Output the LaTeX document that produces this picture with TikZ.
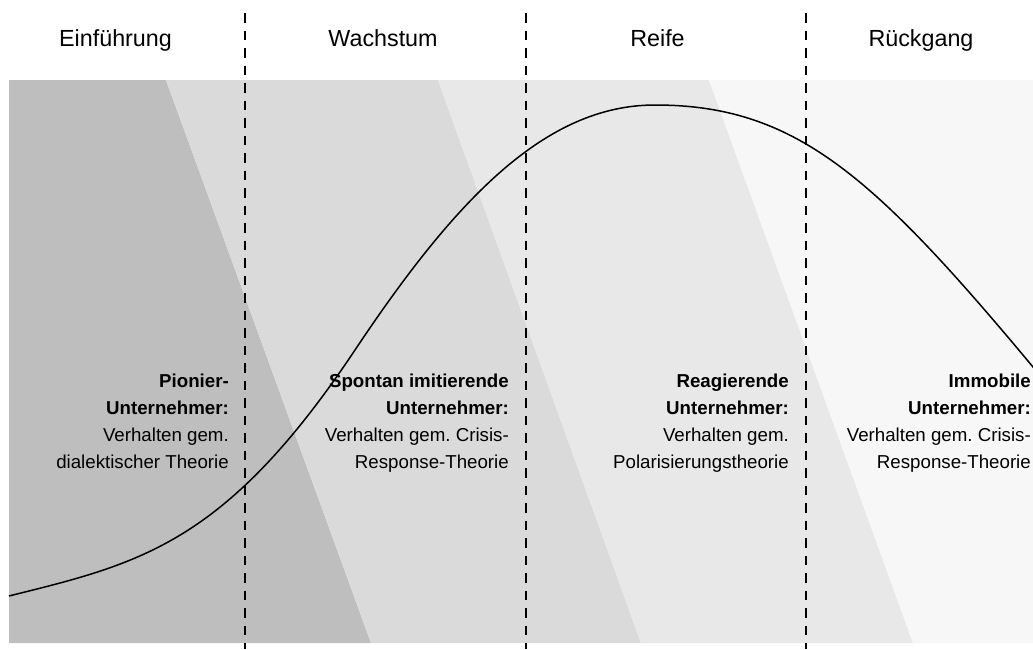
\documentclass[tikz,border=0pt]{standalone}
\usepackage{fontspec}
\setmainfont{Liberation Sans}
\frenchspacing
\definecolor{bandA}{RGB}{190,190,190}
\definecolor{bandB}{RGB}{218,218,218}
\definecolor{bandC}{RGB}{232,232,232}
\definecolor{bandD}{RGB}{247,247,247}
\tikzset{
  phaseline/.style={line width=1.6pt, dash pattern=on 9.5pt off 8pt},
  hdr/.style={anchor=base, inner sep=0pt, font=\fontsize{23.3}{27}\selectfont},
  blk/.style={anchor=base east, inner sep=0pt, font=\fontsize{18.7}{27}\selectfont},
  lifecurve/.style={line width=1.5pt, line join=round}
}
\begin{document}
\begin{tikzpicture}[x=1pt,y=-1pt]
\useasboundingbox (0,0) rectangle (1033,649);
% bands
\fill[bandA] (9,80) -- (166,80) -- (371,643) -- (9,643) -- cycle;
\fill[bandB] (166,80) -- (438,80) -- (641,643) -- (371,643) -- cycle;
\fill[bandC] (438,80) -- (709,80) -- (913,643) -- (641,643) -- cycle;
\fill[bandD] (709,80) -- (1033,80) -- (1033,643) -- (913,643) -- cycle;
% phase separators
\coordinate (s1t) at (245,13); \coordinate (s1b) at (245,649);
\coordinate (s2t) at (526,13); \coordinate (s2b) at (526,649);
\coordinate (s3t) at (806,13); \coordinate (s3b) at (806,649);
\draw[phaseline] (s1t) -- (s1b);
\draw[phaseline] (s2t) -- (s2b);
\draw[phaseline] (s3t) -- (s3b);
% headers
\node[hdr] (h1) at (115.5,46) {Einführung};
\node[hdr] (h2) at (383,46) {Wachstum};
\node[hdr] (h3) at (657.5,46) {Reife};
\node[hdr] (h4) at (921,46) {Rückgang};
% curve
\coordinate (c0) at (9,596);
\coordinate (c1) at (355,350);
\coordinate (c2) at (655,105);
\coordinate (c3) at (1033,367);
\coordinate (c4) at (1043,379);
\begin{scope}
\clip (0,0) rectangle (1033,649);
\draw[lifecurve] (c0) .. controls (139,563.5) and (225,545) .. (c1)
  .. controls (455,200) and (545,105) .. (c2)
  .. controls (795,105) and (873,175) .. (c3) -- (c4);
\end{scope}
% text blocks
\node[blk] (t1) at (229,387) {\begin{tabular}[t]{@{}r@{}}\textbf{Pionier-}\\\textbf{Unternehmer:}\\Verhalten gem.\\dialektischer Theorie\end{tabular}};
\node[blk] (t2) at (509,387) {\begin{tabular}[t]{@{}r@{}}\textbf{Spontan imitierende}\\\textbf{Unternehmer:}\\Verhalten gem. Crisis-\\Response-Theorie\end{tabular}};
\node[blk] (t3) at (789,387) {\begin{tabular}[t]{@{}r@{}}\textbf{Reagierende}\\\textbf{Unternehmer:}\\Verhalten gem.\\Polarisierungstheorie\end{tabular}};
\node[blk] (t4) at (1031,387) {\begin{tabular}[t]{@{}r@{}}\textbf{Immobile}\\\textbf{Unternehmer:}\\Verhalten gem. Crisis-\\Response-Theorie\end{tabular}};
\end{tikzpicture}
\end{document}
